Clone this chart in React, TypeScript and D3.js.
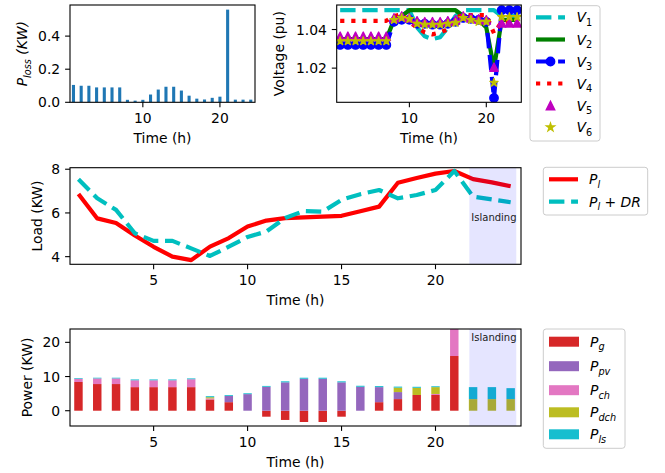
import React from 'react';
import * as d3 from 'd3';

// hours of the day
const hours = [1, 2, 3, 4, 5, 6, 7, 8, 9, 10, 11, 12, 13, 14, 15, 16, 17, 18, 19, 20, 21, 22, 23, 24];

// line losses (KW)
const lossKW = [0.105, 0.1, 0.1, 0.09, 0.09, 0.09, 0.09, 0.015, 0.01, 0.015, 0.047, 0.077, 0.094, 0.094, 0.071, 0.04,
  0.022, 0.017, 0.027, 0.034, 0.56, 0.016, 0.016, 0.016];

// bus voltages (pu)
const v1 = [1.05, 1.05, 1.05, 1.05, 1.05, 1.05, 1.05, 1.05, 1.05, 1.05, 1.041, 1.0365, 1.035, 1.036, 1.041, 1.047,
  1.05, 1.05, 1.05, 1.05, 1.05, 1.047, 1.047, 1.047];
const v2 = [1.035, 1.035, 1.035, 1.035, 1.035, 1.035, 1.035, 1.045, 1.047, 1.05, 1.05, 1.05, 1.05, 1.05, 1.05, 1.05,
  1.047, 1.046, 1.045, 1.041, 1.02, 1.045, 1.045, 1.045];
const v3 = [1.032, 1.032, 1.032, 1.032, 1.032, 1.032, 1.032, 1.044, 1.045, 1.045, 1.043, 1.043, 1.0425, 1.0425, 1.043,
  1.044, 1.046, 1.0455, 1.045, 1.044, 1.0045, 1.05, 1.05, 1.05];
const v4 = [1.0445, 1.0445, 1.0445, 1.0445, 1.0445, 1.0445, 1.0445, 1.047, 1.048, 1.044, 1.041, 1.0385, 1.0375, 1.0385,
  1.04, 1.046, 1.0475, 1.0475, 1.0475, 1.0475, 1.038, 1.044, 1.044, 1.044];
const v5 = [1.0365, 1.0365, 1.0365, 1.0365, 1.0365, 1.0365, 1.0365, 1.046, 1.047, 1.046, 1.0445, 1.044, 1.044, 1.044,
  1.0445, 1.045, 1.047, 1.046, 1.0455, 1.045, 1.0205, 1.0435, 1.0435, 1.0435];
const v6 = [1.034, 1.034, 1.034, 1.034, 1.034, 1.034, 1.034, 1.045, 1.046, 1.0455, 1.043, 1.0425, 1.0425, 1.0425, 1.043,
  1.0435, 1.046, 1.045, 1.044, 1.044, 1.0125, 1.0465, 1.0465, 1.0465];

// load (KW)
const loadPl = [6.87, 5.75, 5.54, 4.97, 4.45, 4.0, 3.84, 4.46, 4.85, 5.38, 5.65, 5.76, 5.8, 5.83, 5.87, 6.08, 6.29,
  7.38, 7.6, 7.8, 7.92, 7.55, 7.4, 7.22];
const loadDR = [7.54, 6.67, 6.14, 5.07, 4.72, 4.72, 4.38, 4.03, 4.46, 4.9, 5.15, 5.77, 6.09, 6.06, 6.6, 6.86, 7.05,
  6.67, 6.82, 7.05, 7.92, 6.75, 6.62, 6.49];

// power dispatch (KW)
const pG = [8.4, 7.8, 7.8, 6.9, 6.9, 6.9, 6.9, 3.3, 2.5, 0, -1.75, -2.7, -3.3, -3.3, -1.75, 0, 2.5, 3.4, 4.6, 4.6,
  16.0, 0, 0, 0];
const pPv = [0, 0, 0, 0, 0, 0, 0, 0, 1.8, 4.85, 7.0, 8.3, 9.35, 9.35, 8.3, 7.0, 4.4, 2.05, 0, 0, 0, 0, 0, 0];
const pCh = [0.95, 1.65, 1.65, 2.0, 2.0, 2.0, 2.3, 0.3, 0, 0, 0, 0, 0, 0, 0, 0, 0, 0, 0, 0.3, 8.0, 0, 0, 0];
const pDch = [0, 0, 0, 0, 0, 0, 0, 0.35, 0, 0, 0, 0, 0, 0, 0, 0, 0, 1.3, 2.1, 2.0, 0, 3.4, 3.4, 3.4];
const pLs = [0.2, 0.2, 0.2, 0.25, 0.25, 0.25, 0.25, 0.3, 0.25, 0.25, 0.25, 0.3, 0.3, 0.3, 0.3, 0.3, 0.3, 0.3, 0.3,
  0.25, 0.3, 3.5, 3.5, 3.2];

const islanding = [21.8, 24.3];

const lossTicks = [0, 0.2, 0.4];
const voltTicks = [1.02, 1.04];
const loadTicks = [4, 6, 8];
const powerTicks = [0, 10, 20];
const topXTicks = [10, 20];
const wideXTicks = [5, 10, 15, 20];

const FONT = 'DejaVu Sans, sans-serif';
const FS = 13.9;

type Box = { left: number; right: number; top: number; bottom: number };

const boxLoss: Box = { left: 70, right: 255, top: 5, bottom: 102.3 };
const boxVolt: Box = { left: 336.7, right: 521.3, top: 5, bottom: 102.3 };
const boxLoad: Box = { left: 70, right: 521, top: 167.7, bottom: 264.3 };
const boxPower: Box = { left: 70, right: 521, top: 329, bottom: 426 };

const xDomain: [number, number] = [0.55, 24.55];

const C = {
  loss: '#1f77b4', c: '#00bfbf', g: '#008000', b: '#0000ff', r: '#ff0000', m: '#bf00bf', y: '#bfbf00',
  pg: '#d62728', ppv: '#9467bd', pch: '#e377c2', pdch: '#bcbd22', pls: '#17becf',
};

const DASH = '15.4 6.7';
const DOT = '4.2 6.9';

function tri(cx: number, cy: number, s: number) {
  return `M${cx},${cy - s}L${cx - s},${cy + s}L${cx + s},${cy + s}Z`;
}
function star(cx: number, cy: number, r: number) {
  const pts: string[] = [];
  for (let i = 0; i < 10; i++) {
    const rr = i % 2 === 0 ? r : r * 0.381966;
    const a = (Math.PI / 5) * i - Math.PI / 2;
    pts.push(`${cx + rr * Math.cos(a)},${cy + rr * Math.sin(a)}`);
  }
  return 'M' + pts.join('L') + 'Z';
}

function Axes(props: {
  id: string; box: Box; x: d3.ScaleLinear<number, number>; y: d3.ScaleLinear<number, number>;
  xTicks: number[]; yTicks: number[]; yFmt: (v: number) => string; yLabel: React.ReactNode;
  children?: React.ReactNode;
}) {
  const { id, box, x, y, xTicks, yTicks, yFmt, yLabel, children } = props;
  return (
    <g>
      <defs>
        <clipPath id={id}>
          <rect x={box.left} y={box.top} width={box.right - box.left} height={box.bottom - box.top} />
        </clipPath>
      </defs>
      <g clipPath={`url(#${id})`}>{children}</g>
      <rect x={box.left} y={box.top} width={box.right - box.left} height={box.bottom - box.top}
        fill="none" stroke="#000" strokeWidth={1.1} />
      {xTicks.map(t => (
        <g key={'x' + t}>
          <line x1={x(t)} x2={x(t)} y1={box.bottom} y2={box.bottom + 4.9} stroke="#000" strokeWidth={1.1} />
          <text x={x(t)} y={box.bottom + 21} textAnchor="middle" fontSize={FS}>{t}</text>
        </g>
      ))}
      {yTicks.map(t => (
        <g key={'y' + t}>
          <line x1={box.left - 4.9} x2={box.left} y1={y(t)} y2={y(t)} stroke="#000" strokeWidth={1.1} />
          <text x={box.left - 9.8} y={y(t) + 5} textAnchor="end" fontSize={FS}>{yFmt(t)}</text>
        </g>
      ))}
      <text x={(box.left + box.right) / 2} y={box.bottom + 40.5} textAnchor="middle" fontSize={FS}>Time (h)</text>
      {yLabel}
    </g>
  );
}

function SubLabel({ base, sub, subItalic = true, rest }: { base: string; sub: string; subItalic?: boolean; rest?: React.ReactNode }) {
  return (
    <>
      <tspan fontStyle="italic">{base}</tspan>
      <tspan fontStyle={subItalic ? 'italic' : 'normal'} fontSize={FS * 0.7} dy={3.5}>{sub}</tspan>
      <tspan dy={-3.5}>{rest ?? ''}</tspan>
    </>
  );
}

function LegendBox({ x, y, w, h }: { x: number; y: number; w: number; h: number }) {
  return <rect x={x} y={y} width={w} height={h} rx={2.8} fill="#fff" fillOpacity={0.8} stroke="#cccccc" strokeWidth={1} />;
}

export default function App() {
  const xLoss = d3.scaleLinear().domain(xDomain).range([boxLoss.left, boxLoss.right]);
  const yLoss = d3.scaleLinear().domain([0, 0.588]).range([boxLoss.bottom, boxLoss.top]);
  const xVolt = d3.scaleLinear().domain(xDomain).range([boxVolt.left, boxVolt.right]);
  const yVolt = d3.scaleLinear().domain([1.0023, 1.0527]).range([boxVolt.bottom, boxVolt.top]);
  const xLoad = d3.scaleLinear().domain(xDomain).range([boxLoad.left, boxLoad.right]);
  const yLoad = d3.scaleLinear().domain([3.65, 8.07]).range([boxLoad.bottom, boxLoad.top]);
  const xPow = d3.scaleLinear().domain(xDomain).range([boxPower.left, boxPower.right]);
  const yPow = d3.scaleLinear().domain([-4.47, 23.9]).range([boxPower.bottom, boxPower.top]);

  const voltLine = (vals: number[]) =>
    d3.line<number>().x((_, i) => xVolt(hours[i])).y(v => yVolt(v))(vals) ?? '';
  const loadLine = (vals: number[]) =>
    d3.line<number>().x((_, i) => xLoad(hours[i])).y(v => yLoad(v))(vals) ?? '';

  const rows = hours.map((h, i) => ({ h, pg: pG[i], ppv: pPv[i], pch: pCh[i], pdch: pDch[i], pls: pLs[i] }));
  const keys = ['pg', 'ppv', 'pch', 'pdch', 'pls'] as const;
  const stacked = d3.stack<any>().keys(keys as any).offset(d3.stackOffsetDiverging)(rows);
  const barW = 0.45;

  const fmt1 = d3.format('.1f');
  const fmt2 = d3.format('.2f');
  const fmt0 = d3.format('d');

  const spanLoad = (
    <rect x={xLoad(islanding[0])} width={xLoad(islanding[1]) - xLoad(islanding[0])} y={boxLoad.top}
      height={boxLoad.bottom - boxLoad.top} fill="#0000ff" fillOpacity={0.1} />
  );
  const spanPow = (
    <rect x={xPow(islanding[0])} width={xPow(islanding[1]) - xPow(islanding[0])} y={boxPower.top}
      height={boxPower.bottom - boxPower.top} fill="#0000ff" fillOpacity={0.1} />
  );

  const vLegendY = [17.3, 39.5, 61.5, 83.5, 105.5, 127.3];
  const vLabels = ['1', '2', '3', '4', '5', '6'];
  const powLegendY = [341.7, 366.2, 390.2, 412.3, 434.3];
  const powLegend = [
    { c: C.pg, s: 'g' }, { c: C.ppv, s: 'pv' }, { c: C.pch, s: 'ch' }, { c: C.pdch, s: 'dch' }, { c: C.pls, s: 'ls' },
  ];

  return (
    <svg width={665} height={473} style={{ position: 'absolute', left: 0, top: 0, background: '#fff' }}
      fontFamily={FONT}>
      {/* losses */}
      <Axes id="cl1" box={boxLoss} x={xLoss} y={yLoss} xTicks={topXTicks} yTicks={lossTicks} yFmt={fmt1}
        yLabel={
          <text transform={`translate(27,${(boxLoss.top + boxLoss.bottom) / 2}) rotate(-90)`} textAnchor="middle" fontSize={FS}>
            <SubLabel base="P" sub="loss" rest={<tspan fontStyle="italic"> (KW)</tspan>} />
          </text>
        }>
        {lossKW.map((v, i) => (
          <rect key={i} x={xLoss(hours[i] - 0.2)} width={xLoss(hours[i] + 0.2) - xLoss(hours[i] - 0.2)}
            y={yLoss(v)} height={yLoss(0) - yLoss(v)} fill={C.loss} />
        ))}
      </Axes>

      {/* voltages */}
      <Axes id="cl2" box={boxVolt} x={xVolt} y={yVolt} xTicks={topXTicks} yTicks={voltTicks} yFmt={fmt2}
        yLabel={
          <text transform={`translate(284,${(boxVolt.top + boxVolt.bottom) / 2}) rotate(-90)`} textAnchor="middle" fontSize={FS}>
            Voltage (pu)
          </text>
        }>
        <path d={voltLine(v1)} fill="none" stroke={C.c} strokeWidth={4.2} strokeDasharray={DASH} strokeLinejoin="round" />
        <path d={voltLine(v2)} fill="none" stroke={C.g} strokeWidth={4.2} strokeLinejoin="round" />
        <path d={voltLine(v3)} fill="none" stroke={C.b} strokeWidth={4.2} strokeDasharray={DASH} strokeLinejoin="round" />
        {v3.map((v, i) => <circle key={'c' + i} cx={xVolt(hours[i])} cy={yVolt(v)} r={4.2} fill={C.b} stroke={C.b} strokeWidth={1.4} />)}
        <path d={voltLine(v4)} fill="none" stroke={C.r} strokeWidth={4.2} strokeDasharray={DOT} strokeLinejoin="round" />
        {v5.map((v, i) => <path key={'t' + i} d={tri(xVolt(hours[i]), yVolt(v), 4.2)} fill={C.m} stroke={C.m} strokeWidth={1.4} strokeLinejoin="round" />)}
        {v6.map((v, i) => <path key={'s' + i} d={star(xVolt(hours[i]), yVolt(v), 4.4)} fill={C.y} stroke={C.y} strokeWidth={1.2} strokeLinejoin="round" />)}
      </Axes>

      <LegendBox x={530} y={5.7} w={70} h={135.3} />
      {vLegendY.map((ly, i) => (
        <g key={'vl' + i}>
          {i === 0 && <line x1={536} x2={565} y1={ly} y2={ly} stroke={C.c} strokeWidth={4.2} strokeDasharray={DASH} />}
          {i === 1 && <line x1={536} x2={565} y1={ly} y2={ly} stroke={C.g} strokeWidth={4.2} />}
          {i === 2 && <>
            <line x1={536} x2={565} y1={ly} y2={ly} stroke={C.b} strokeWidth={4.2} strokeDasharray={DASH} />
            <circle cx={550.5} cy={ly} r={4.2} fill={C.b} stroke={C.b} strokeWidth={1.4} />
          </>}
          {i === 3 && <line x1={536} x2={565} y1={ly} y2={ly} stroke={C.r} strokeWidth={4.2} strokeDasharray={DOT} />}
          {i === 4 && <path d={tri(550.5, ly, 4.2)} fill={C.m} stroke={C.m} strokeWidth={1.4} />}
          {i === 5 && <path d={star(550.5, ly, 4.4)} fill={C.y} stroke={C.y} strokeWidth={1.2} />}
          <text x={576.5} y={ly + 5} fontSize={FS}>
            <SubLabel base="V" sub={vLabels[i]} subItalic={false} />
          </text>
        </g>
      ))}

      {/* load */}
      <Axes id="cl3" box={boxLoad} x={xLoad} y={yLoad} xTicks={wideXTicks} yTicks={loadTicks} yFmt={fmt0}
        yLabel={
          <text transform={`translate(42,${(boxLoad.top + boxLoad.bottom) / 2}) rotate(-90)`} textAnchor="middle" fontSize={FS}>
            Load (KW)
          </text>
        }>
        <path d={loadLine(loadPl)} fill="none" stroke={C.r} strokeWidth={4.2} strokeLinejoin="round" />
        <path d={loadLine(loadDR)} fill="none" stroke={C.c} strokeWidth={4.2} strokeDasharray={DASH} strokeLinejoin="round" />
        {spanLoad}
        <text x={xLoad(islanding[0]) + 2} y={221} fontSize={10} fill="#222">Islanding</text>
      </Axes>

      <LegendBox x={543.3} y={167.3} w={104.4} h={47.7} />
      <line x1={549} x2={578} y1={179.3} y2={179.3} stroke={C.r} strokeWidth={4.2} />
      <text x={589} y={184.3} fontSize={FS}><SubLabel base="P" sub="l" /></text>
      <line x1={549} x2={578} y1={201.7} y2={201.7} stroke={C.c} strokeWidth={4.2} strokeDasharray={DASH} />
      <text x={589} y={206.7} fontSize={FS}>
        <SubLabel base="P" sub="l" rest={<><tspan> + </tspan><tspan fontStyle="italic">DR</tspan></>} />
      </text>

      {/* power */}
      <Axes id="cl4" box={boxPower} x={xPow} y={yPow} xTicks={wideXTicks} yTicks={powerTicks} yFmt={fmt0}
        yLabel={
          <text transform={`translate(32,${(boxPower.top + boxPower.bottom) / 2}) rotate(-90)`} textAnchor="middle" fontSize={FS}>
            Power (KW)
          </text>
        }>
        {stacked.map((s, k) => (
          <g key={s.key} fill={powLegend[k].c}>
            {s.map((d, i) => {
              const y0 = yPow(d[0]);
              const y1 = yPow(d[1]);
              if (Math.abs(y0 - y1) < 0.01) return null;
              return (
                <rect key={i} x={xPow(hours[i] - barW / 2)} width={xPow(hours[i] + barW / 2) - xPow(hours[i] - barW / 2)}
                  y={Math.min(y0, y1)} height={Math.abs(y0 - y1)} />
              );
            })}
          </g>
        ))}
        {spanPow}
        <text x={xPow(islanding[0]) + 2} y={341} fontSize={10} fill="#222">Islanding</text>
      </Axes>

      <LegendBox x={543.3} y={329} w={81.7} h={119.3} />
      {powLegend.map((p, i) => (
        <g key={'pl' + i}>
          <rect x={549} y={powLegendY[i] - 5} width={30} height={10} fill={p.c} />
          <text x={590} y={powLegendY[i] + 5} fontSize={FS}><SubLabel base="P" sub={p.s} /></text>
        </g>
      ))}
    </svg>
  );
}
